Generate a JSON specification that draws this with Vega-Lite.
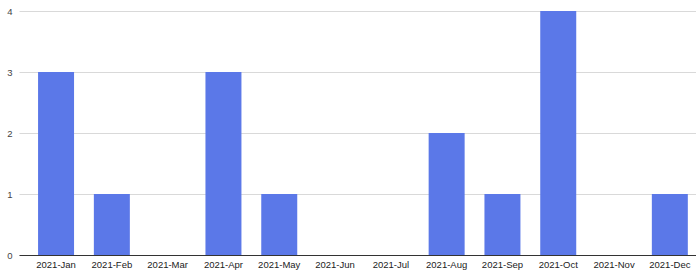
{
  "$schema": "https://vega.github.io/schema/vega-lite/v6.json",
  "width": 677,
  "height": 244,
  "autosize": {"type": "none"},
  "padding": {"left": 19, "top": 11, "right": 0, "bottom": 18},
  "background": "#ffffff",
  "data": {"values": [
    {"month": "2021-Jan", "count": 3},
    {"month": "2021-Feb", "count": 1},
    {"month": "2021-Mar", "count": 0},
    {"month": "2021-Apr", "count": 3},
    {"month": "2021-May", "count": 1},
    {"month": "2021-Jun", "count": 0},
    {"month": "2021-Jul", "count": 0},
    {"month": "2021-Aug", "count": 2},
    {"month": "2021-Sep", "count": 1},
    {"month": "2021-Oct", "count": 4},
    {"month": "2021-Nov", "count": 0},
    {"month": "2021-Dec", "count": 1}
  ]},
  "mark": {"type": "bar", "color": "#5b78e8"},
  "encoding": {
    "x": {
      "field": "month", "type": "nominal", "sort": null,
      "scale": {"paddingInner": 0.355, "paddingOuter": 0.244, "align": 0.7},
      "axis": {"title": null, "labelAngle": 0, "ticks": false, "domainColor": "#333333", "domainWidth": 1, "labelFont": "Liberation Sans", "labelFontSize": 9.5, "labelColor": "#222222", "labelPadding": 4, "grid": false}
    },
    "y": {
      "field": "count", "type": "quantitative",
      "scale": {"domain": [0, 4], "nice": false},
      "axis": {"title": null, "values": [0, 1, 2, 3, 4], "format": "d", "ticks": false, "domain": false, "gridColor": "#d9d9d9", "labelFont": "Liberation Sans", "labelFontSize": 9.5, "labelColor": "#444444", "labelPadding": 7}
    }
  },
  "config": {"view": {"stroke": null}}
}
